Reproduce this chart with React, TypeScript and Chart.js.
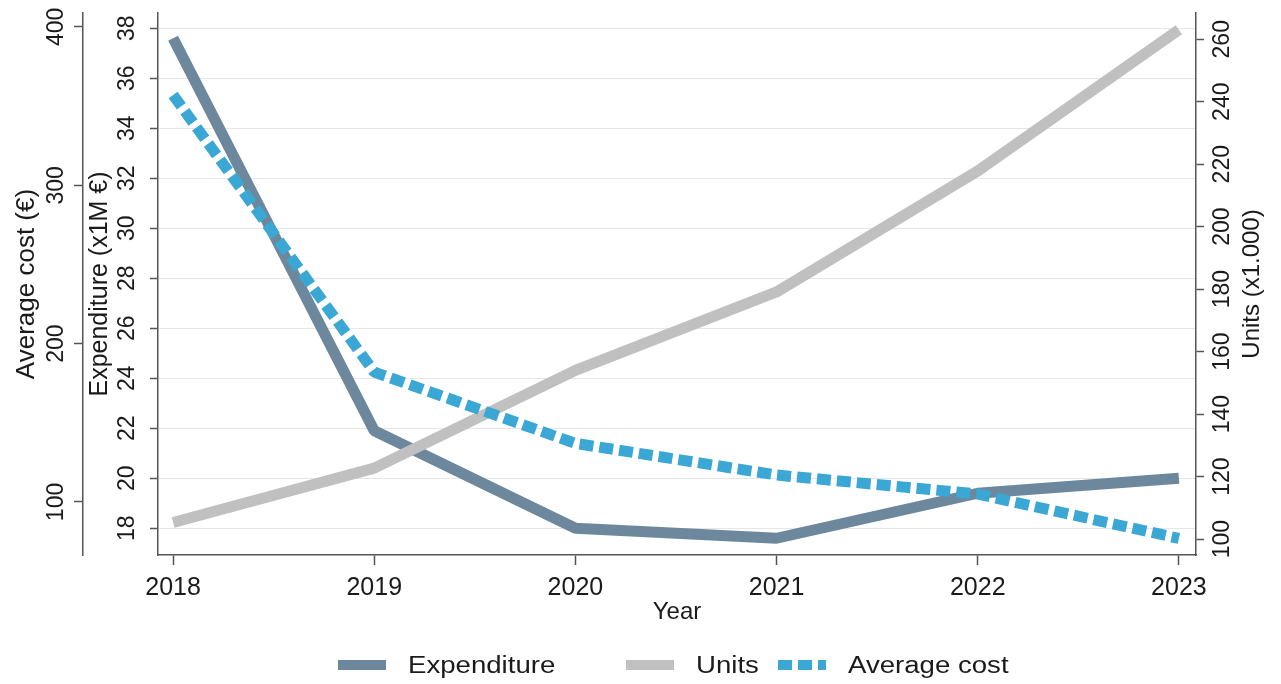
import React, { useEffect, useRef } from 'react';
import { Chart, registerables } from 'chart.js';

Chart.register(...registerables);

// ---- data ----
const years = [2018, 2019, 2020, 2021, 2022, 2023];
const yearLabels = ['2018', '2019', '2020', '2021', '2022', '2023'];
const expenditure = [37.6, 21.9, 18.0, 17.6, 19.4, 20.0];
const units = [105.3, 122.7, 154.0, 179.1, 217.8, 263.0];
const averageCost = [357, 182, 137, 117, 105, 77];

const expTicks = [18, 20, 22, 24, 26, 28, 30, 32, 34, 36, 38];
const costTicks = [100, 200, 300, 400];
const unitTicks = [100, 120, 140, 160, 180, 200, 220, 240, 260];

const seriesNames = ['Expenditure', 'Units', 'Average cost'];
const axisTitles = {
  x: 'Year',
  exp: 'Expenditure (x1M €)',
  cost: 'Average cost (€)',
  units: 'Units (x1.000)',
};

// ---- styles ----
const FONT = "'Liberation Sans', Arial, Helvetica, sans-serif";
const TEXT = '#1a1a1a';
const AXIS = '#555555';
const GRID = '#e6e6e6';
const COLORS = ['#6d889d', '#c0c0c0', '#3ba7d5'];
const DASH = [14, 6];

const customText = {
  id: 'customText',
  afterDraw(chart: any) {
    const ctx = chart.ctx as CanvasRenderingContext2D;
    const rot = (text: string, x: number, y: number, size: number) => {
      ctx.save();
      ctx.translate(x, y);
      ctx.rotate(-Math.PI / 2);
      ctx.font = `${size}px ${FONT}`;
      ctx.fillStyle = TEXT;
      ctx.textAlign = 'center';
      ctx.textBaseline = 'middle';
      ctx.fillText(text, 0, 0);
      ctx.restore();
    };
    const axes = [
      { id: 'yCost', ticks: costTicks, labelX: 57, titleX: 27, title: axisTitles.cost, titleSize: 26 },
      { id: 'yExp', ticks: expTicks, labelX: 128, titleX: 100, title: axisTitles.exp, titleSize: 25 },
      { id: 'yUnits', ticks: unitTicks, labelX: 1223, titleX: 1252, title: axisTitles.units, titleSize: 24 },
    ];
    const area = chart.chartArea;
    for (const a of axes) {
      const s = chart.scales[a.id];
      for (const v of a.ticks) {
        rot(String(v), a.labelX, s.getPixelForValue(v), 23);
      }
      rot(a.title, a.titleX, (area.top + area.bottom) / 2, a.titleSize);
    }

    // legend
    const ly = 665;
    const starts = [338, 626, 778];
    const sw = 48;
    for (let i = 0; i < seriesNames.length; i++) {
      const x0 = starts[i];
      ctx.save();
      ctx.strokeStyle = COLORS[i];
      ctx.lineWidth = 10;
      ctx.lineCap = 'butt';
      ctx.setLineDash(i === 2 ? DASH : []);
      ctx.beginPath();
      ctx.moveTo(x0, ly);
      ctx.lineTo(x0 + sw, ly);
      ctx.stroke();
      ctx.restore();
      ctx.save();
      ctx.translate(x0 + sw + 22, ly + 2);
      ctx.scale(1.2, 1);
      ctx.font = `23px ${FONT}`;
      ctx.fillStyle = TEXT;
      ctx.textAlign = 'left';
      ctx.textBaseline = 'middle';
      ctx.fillText(seriesNames[i], 0, 0);
      ctx.restore();
    }
  },
};

export default function App() {
  const ref = useRef<HTMLCanvasElement | null>(null);

  useEffect(() => {
    if (!ref.current) return;
    const pts = (arr: number[]) => years.map((x, i) => ({ x, y: arr[i] }));
    const common = {
      borderWidth: 11,
      pointRadius: 0,
      pointHoverRadius: 0,
      tension: 0,
      fill: false,
      borderCapStyle: 'butt' as const,
      borderJoinStyle: 'bevel' as const,
    };
    const chart = new Chart(ref.current, {
      type: 'line',
      data: {
        datasets: [
          { ...common, label: seriesNames[0], data: pts(expenditure), yAxisID: 'yExp', borderColor: COLORS[0], backgroundColor: COLORS[0], order: 3 },
          { ...common, label: seriesNames[1], data: pts(units), yAxisID: 'yUnits', borderColor: COLORS[1], backgroundColor: COLORS[1], order: 2 },
          { ...common, label: seriesNames[2], data: pts(averageCost), yAxisID: 'yCost', borderColor: COLORS[2], backgroundColor: COLORS[2], borderDash: DASH, order: 1 },
        ],
      },
      options: {
        animation: false,
        responsive: true,
        maintainAspectRatio: false,
        layout: { padding: { top: 13, left: 0, right: 0, bottom: 0 } },
        plugins: { legend: { display: false }, tooltip: { enabled: false } },
        scales: {
          x: {
            type: 'linear',
            position: 'bottom',
            min: 2017.925,
            max: 2023.085,
            afterBuildTicks: (s: any) => {
              s.ticks = years.map((v) => ({ value: v }));
            },
            afterFit: (s: any) => {
              s.height = 129;
            },
            ticks: {
              callback: (v: any) => {
                const i = years.indexOf(Number(v));
                return i >= 0 ? yearLabels[i] : '';
              },
              font: { size: 25, family: FONT },
              color: TEXT,
              padding: 8,
              maxRotation: 0,
              autoSkip: false,
            },
            grid: { drawOnChartArea: false, drawTicks: true, tickLength: 10, tickColor: AXIS, tickWidth: 1.5 },
            border: { display: true, color: AXIS, width: 1.5 },
            title: { display: true, text: axisTitles.x, font: { size: 24, family: FONT }, color: TEXT, padding: { top: 0, bottom: 57 } },
          },
          yCost: {
            type: 'linear',
            position: 'left',
            weight: 1,
            min: 66.5,
            max: 408.8,
            afterBuildTicks: (s: any) => {
              s.ticks = costTicks.map((v) => ({ value: v }));
            },
            afterFit: (s: any) => {
              s.width = 83;
            },
            ticks: { display: false },
            grid: { drawOnChartArea: false, drawTicks: true, tickLength: 9, tickColor: AXIS, tickWidth: 1.5 },
            border: { display: true, color: AXIS, width: 1.5 },
          },
          yExp: {
            type: 'linear',
            position: 'left',
            weight: 0,
            min: 16.93,
            max: 38.61,
            afterBuildTicks: (s: any) => {
              s.ticks = expTicks.map((v) => ({ value: v }));
            },
            afterFit: (s: any) => {
              s.width = 75;
            },
            ticks: { display: false },
            grid: { drawOnChartArea: true, color: GRID, lineWidth: 1, drawTicks: true, tickLength: 8, tickColor: AXIS, tickWidth: 1.5 },
            border: { display: true, color: AXIS, width: 1.5 },
          },
          yUnits: {
            type: 'linear',
            position: 'right',
            min: 94.9,
            max: 268.4,
            afterBuildTicks: (s: any) => {
              s.ticks = unitTicks.map((v) => ({ value: v }));
            },
            afterFit: (s: any) => {
              s.width = 85;
            },
            ticks: { display: false },
            grid: { drawOnChartArea: false, drawTicks: true, tickLength: 8, tickColor: AXIS, tickWidth: 1.5 },
            border: { display: true, color: AXIS, width: 1.5 },
          },
        },
      } as any,
      plugins: [customText],
    });
    return () => chart.destroy();
  }, []);

  return (
    <div style={{ position: 'absolute', left: 0, top: 0, width: 1281, height: 684, background: '#ffffff' }}>
      <canvas ref={ref} />
    </div>
  );
}
